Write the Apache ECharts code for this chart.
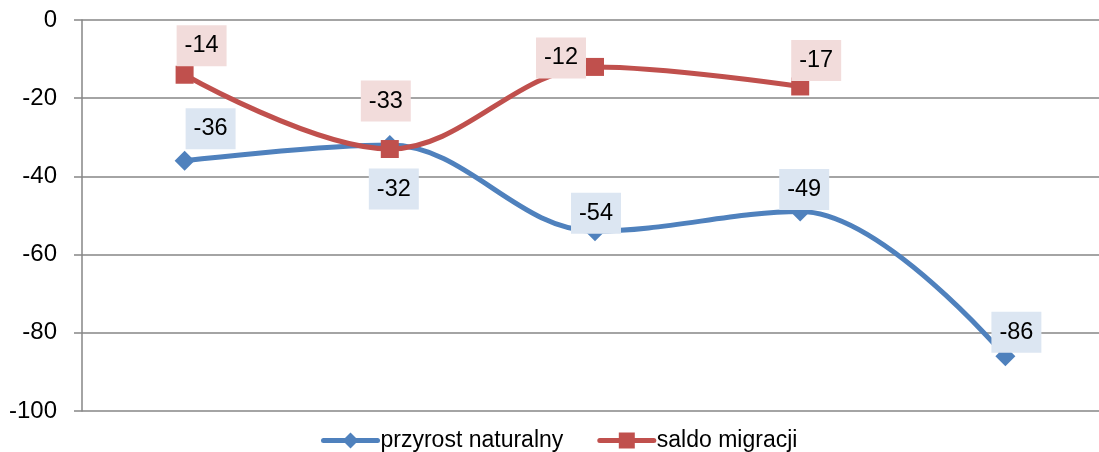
<!DOCTYPE html>
<html>
<head>
<meta charset="utf-8">
<script src="https://cdn.jsdelivr.net/npm/echarts@6/dist/echarts.min.js"></script>
<style>
html,body{margin:0;padding:0;background:#fff;}
#chart{width:1099px;height:452px;}
</style>
</head>
<body>
<div id="chart"></div>
<script>
const categories = ['1', '2', '3', '4', '5'];
const przyrostNaturalny = [-36, -32, -54, -49, -86];
const saldoMigracji = [-14, -33, -12, -17, null];
const seriesNames = ['przyrost naturalny', 'saldo migracji'];
const yTicks = { min: -100, max: 0, interval: 20 };

// label placement (layout, not data)
const blueLabelOffsets = [[26, -32], [4, 44], [1, -18], [4, -22], [11, -24]];
const redLabelOffsets = [[17, -29], [-4, -48], [-34, -9], [16, -26], [0, 0]];

const FONT = 'Liberation Sans';
const BLUE = '#4F81BD';
const RED = '#C0504D';

function buildData(values, offsets, bg) {
  return values.map((v, i) => ({
    value: v,
    label: {
      show: v !== null,
      position: 'inside',
      offset: offsets[i],
      backgroundColor: bg,
      padding: [9, 8, 7, 8],
      color: '#000',
      fontFamily: FONT,
      fontSize: 23.5,
      lineHeight: 25
    }
  }));
}

const chart = echarts.init(document.getElementById('chart'));
chart.setOption({
  animation: false,
  grid: { left: 82, width: 1026, top: 20, bottom: 41, containLabel: false, outerBoundsMode: 'none' },
  xAxis: {
    type: 'category',
    data: categories,
    boundaryGap: true,
    axisLine: { show: false },
    axisTick: { show: false },
    axisLabel: { show: false },
    splitLine: { show: false }
  },
  yAxis: {
    type: 'value',
    min: yTicks.min,
    max: yTicks.max,
    interval: yTicks.interval,
    axisLine: { show: true, lineStyle: { color: '#868686', width: 1.5 } },
    axisTick: { show: true, length: 8, lineStyle: { color: '#868686', width: 1.5 } },
    axisLabel: { color: '#000', fontFamily: FONT, fontSize: 24, margin: 25 },
    splitLine: { show: true, lineStyle: { color: '#868686', width: 1.5 } }
  },
  legend: {
    top: 424,
    left: 316,
    itemWidth: 54,
    itemHeight: 20,
    itemGap: 34,
    lineStyle: { width: 5, cap: 'round' },
    textStyle: { color: '#000', fontFamily: FONT, fontSize: 23, padding: [0, 0, 0, -2] },
    data: seriesNames
  },
  series: [
    {
      name: seriesNames[0],
      type: 'line',
      smooth: 0.36,
      data: buildData(przyrostNaturalny, blueLabelOffsets, '#DCE6F2'),
      symbol: 'diamond',
      symbolSize: 20,
      itemStyle: { color: BLUE },
      lineStyle: { color: BLUE, width: 5 },
      z: 3
    },
    {
      name: seriesNames[1],
      type: 'line',
      smooth: 0.36,
      data: buildData(saldoMigracji, redLabelOffsets, '#F2DCDB'),
      symbol: 'rect',
      symbolSize: 18,
      itemStyle: { color: RED },
      lineStyle: { color: RED, width: 5 },
      z: 4
    }
  ]
});
</script>
</body>
</html>
